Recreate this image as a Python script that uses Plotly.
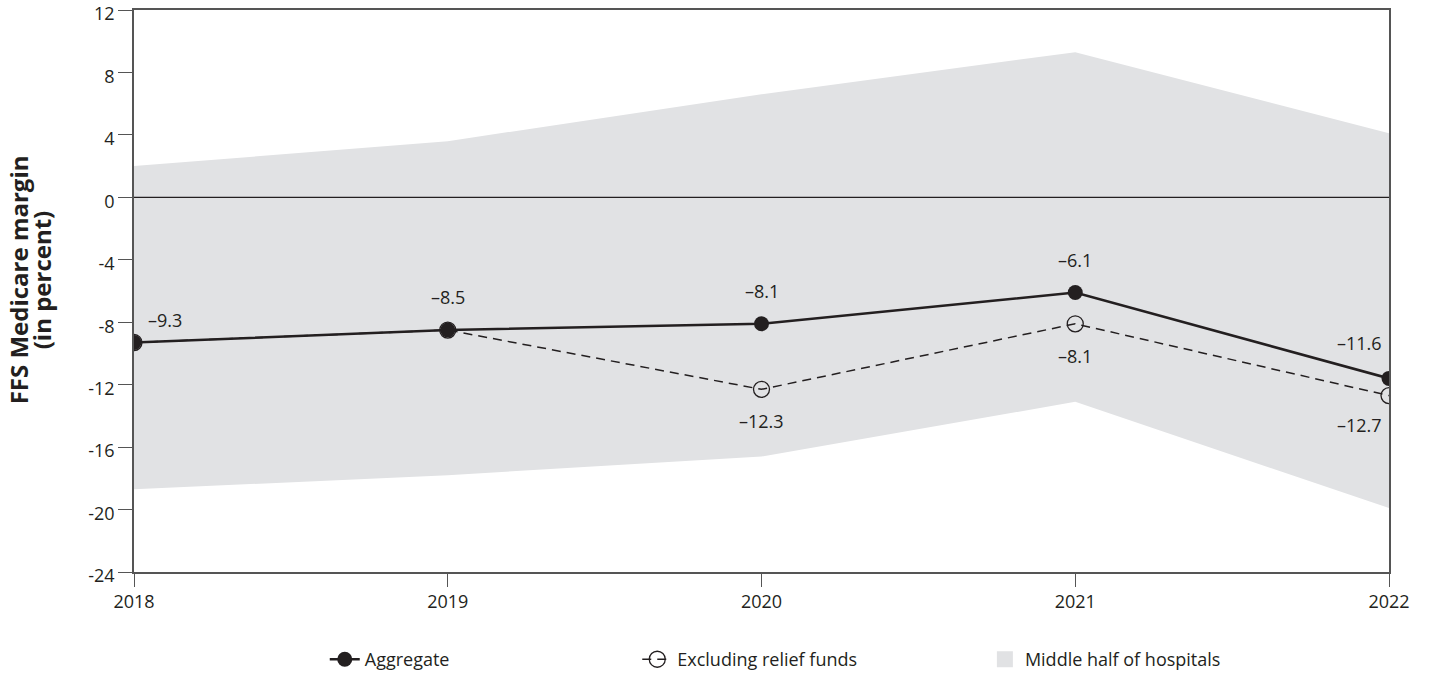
import plotly.graph_objects as go

years = [2018, 2019, 2020, 2021, 2022]
aggregate = [-9.3, -8.5, -8.1, -6.1, -11.6]
excluding_relief = [-9.3, -8.5, -12.3, -8.1, -12.7]
band_upper = [2.0, 3.6, 6.6, 9.3, 4.1]
band_lower = [-18.7, -17.8, -16.6, -13.1, -19.9]

y_ticks = [-24, -20, -16, -12, -8, -4, 0, 4, 8, 12]
y_ticktext = ["-24", "-20", "-16", "-12", "-8", "-4", "0", "4", "8", "12"]

agg_labels = ["–9.3", "–8.5", "–8.1", "–6.1", "–11.6"]
excl_labels = [None, None, "–12.3", "–8.1", "–12.7"]

FONT = "Open Sans"
INK = "#231f20"
AXIS = "#555555"
BAND = "#e1e2e4"

fig = go.Figure()

fig.add_trace(go.Scatter(
    x=years + years[::-1],
    y=band_upper + band_lower[::-1],
    fill="toself",
    fillcolor=BAND,
    line=dict(width=0, color="rgba(0,0,0,0)"),
    mode="lines",
    showlegend=False,
    hoverinfo="skip",
))

fig.add_trace(go.Scatter(
    x=years,
    y=excluding_relief,
    mode="lines+markers",
    name="Excluding relief funds",
    legend="legend2",
    line=dict(color=INK, width=1.5, dash="9px,6px"),
    marker=dict(symbol="circle-open", size=16, color=INK, line=dict(width=1.3)),
))

fig.add_trace(go.Scatter(
    x=years,
    y=aggregate,
    mode="lines+markers",
    name="Aggregate",
    legend="legend",
    line=dict(color=INK, width=2.5),
    marker=dict(symbol="circle", size=15, color=INK),
))

# legend-only entry for the band (square swatch)
fig.add_trace(go.Scatter(
    x=[None], y=[None],
    mode="markers",
    name="Middle half of hospitals",
    legend="legend3",
    marker=dict(symbol="square", size=22, color=BAND),
))

# value labels
agg_shift = [(31, 23), (0, 33), (0, 33), (0, 33), (-30, 35)]
for x, y, t, (dx, dy) in zip(years, aggregate, agg_labels, agg_shift):
    fig.add_annotation(x=x, y=y, text=t, showarrow=False, xshift=dx, yshift=dy,
                       font=dict(size=18, color=INK, family=FONT))
excl_shift = [None, None, (0, -32), (0, -32), (-30, -29)]
for x, y, t, s in zip(years, excluding_relief, excl_labels, excl_shift):
    if t is None:
        continue
    fig.add_annotation(x=x, y=y, text=t, showarrow=False, xshift=s[0], yshift=s[1],
                       font=dict(size=18, color=INK, family=FONT))

# y-axis title, two lines set close together
for line, xp in [("FFS Medicare margin", -0.0924), ("(in percent)", -0.0741)]:
    fig.add_annotation(
        x=xp, y=0.519, xref="paper", yref="paper",
        xanchor="center", yanchor="middle",
        text=f"<b>{line}</b>",
        textangle=-90, showarrow=False,
        font=dict(size=24, color=INK, family=FONT),
    )

fig.add_hline(y=0, line=dict(color=INK, width=1.2), layer="above")

fig.update_xaxes(
    range=[2018, 2022],
    tickvals=years,
    ticktext=[str(y) for y in years],
    showgrid=False,
    zeroline=False,
    showline=True,
    linecolor=AXIS,
    linewidth=1.5,
    mirror=True,
    ticks="outside",
    ticklen=13,
    tickcolor=AXIS,
    tickfont=dict(size=18, color=INK, family=FONT),
    automargin=False,
)
fig.update_yaxes(
    range=[-24, 12],
    tickvals=y_ticks,
    ticktext=y_ticktext,
    showgrid=False,
    zeroline=False,
    showline=True,
    linecolor=AXIS,
    linewidth=1.5,
    mirror=True,
    ticks="outside",
    ticklen=14,
    tickcolor=AXIS,
    tickfont=dict(size=18, color=INK, family=FONT),
    ticklabelshift=4,
    ticklabeloverflow="allow",
    automargin=False,
)

legend_common = dict(
    orientation="h",
    xanchor="left",
    yref="container",
    y=0.02, yanchor="middle",
    font=dict(size=18, color=INK, family=FONT),
    bgcolor="rgba(0,0,0,0)",
)

fig.update_layout(
    width=1431,
    height=673,
    paper_bgcolor="white",
    plot_bgcolor="white",
    margin=dict(l=134, r=42, t=10, b=101, autoexpand=False),
    font=dict(family=FONT, color=INK),
    legend=dict(legend_common, x=0.152),
    legend2=dict(legend_common, x=0.401),
    legend3=dict(legend_common, x=0.678),
    showlegend=True,
)

# drop the default page margin so the figure fills the window exactly
fig.write_html(
    "out.html",
    config={"displayModeBar": False},
    post_script="document.body.style.margin='0';",
)
